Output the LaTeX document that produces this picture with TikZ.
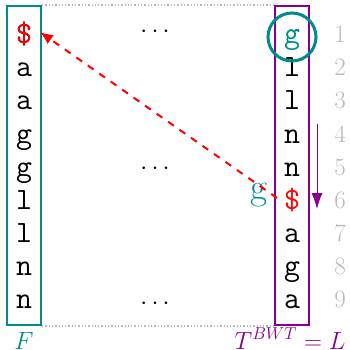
\documentclass[tikz,border=0pt]{standalone}
\usetikzlibrary{arrows.meta}
\definecolor{tealc}{RGB}{0,140,140}
\definecolor{purplec}{RGB}{135,0,140}
\definecolor{grayc}{RGB}{185,185,185}
\begin{document}
\begin{tikzpicture}[x=1pt,y=-1pt,
  letter/.style={anchor=base,inner sep=0pt,font=\fontsize{31}{31}\selectfont\ttfamily},
  idx/.style={anchor=base,inner sep=0pt,text=grayc,font=\fontsize{25}{25}\selectfont},
  dotsn/.style={anchor=base,inner sep=0pt,font=\fontsize{36}{36}\selectfont},
  colbox/.style={draw,line width=2pt}]
\useasboundingbox (0,0) rectangle (349,350);
% boxes
\node[colbox,tealc,minimum width=34pt,minimum height=319pt,inner sep=0pt] (F) at (24,165.5) {};
\node[colbox,purplec,minimum width=34pt,minimum height=319pt,inner sep=0pt] (L) at (292,165.5) {};
\draw[grayc,line width=1.3pt,dotted] (F.north east) -- (L.north west);
\draw[grayc,line width=1.3pt,dotted] (F.south east) -- (L.south west);
% F column
\foreach \c [count=\i] in {\$,a,a,g,g,l,l,n,n}{
  \node[letter] (f\i) at (24,{11+33*\i}) {\c};
}
% L column
\foreach \c [count=\i] in {g,l,l,n,n,\$,a,g,a}{
  \node[letter] (l\i) at (292,{11+33*\i}) {\c};
}
\node[letter,text=red] (fd) at (24,44) {\$};
\node[letter,fill=white,text=red] (ld) at (292,209) {\$};
\node[letter,fill=white,text=tealc] (lg) at (292,44) {g};
% indices
\foreach \i in {1,...,9}{
  \node[idx] (n\i) at (340,{10+33*\i}) {\i};
}
% dots
\node[dotsn] (d1) at (155,38) {$\cdots$};
\node[dotsn] (d5) at (155,174) {$\cdots$};
\node[dotsn] (d9) at (155,309) {$\cdots$};
% circle
\node[draw=tealc,line width=3pt,circle,minimum size=48pt,inner sep=0pt] (c) at (292,37) {};
% teal g
\node[anchor=base,inner sep=0pt,text=tealc,font=\fontsize{37}{37}\selectfont] (tg) at (259,199) {g};
% arrows
\coordinate (pa) at (317,124);
\coordinate (pb) at (317,209);
\draw[purplec,line width=0.9pt,-{Latex[length=16pt,width=11pt]}] (pa) -- (pb);
\coordinate (ra) at (277,198);
\coordinate (rb) at (40,32);
\draw[red,line width=2pt,dash pattern=on 7pt off 7pt,-{Latex[length=13pt,width=11pt]}] (ra) -- (rb);
% labels
\node[anchor=base,inner sep=0pt,text=tealc,font=\fontsize{24}{24}\selectfont] (Fl) at (24,349) {$F$};
\node[anchor=base,inner sep=0pt,text=purplec,font=\fontsize{24}{24}\selectfont] (Ll) at (290,349) {$T^{BWT}=L$};
\end{tikzpicture}
\end{document}
